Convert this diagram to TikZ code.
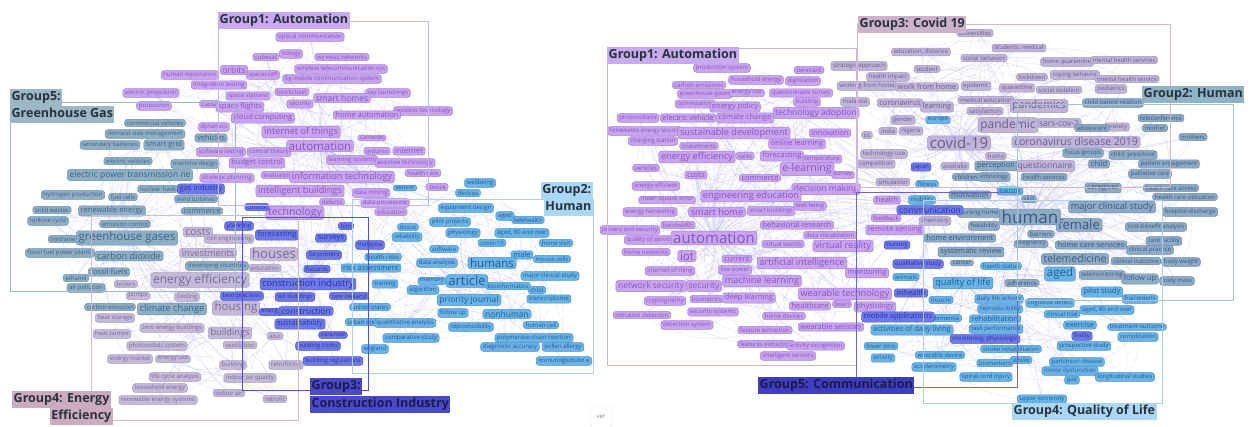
\documentclass[tikz,border=0pt]{standalone}
\usepackage{fontspec}
\setmainfont{Open Sans}
\usetikzlibrary{backgrounds}
\definecolor{cPur}{HTML}{C8A3EF}\definecolor{cPurD}{HTML}{A783D8}\definecolor{cPurT}{HTML}{8656BA}
\definecolor{cGG}{HTML}{8EAEC6}\definecolor{cGGD}{HTML}{6F90AB}\definecolor{cGGT}{HTML}{3B6385}
\definecolor{cEE}{HTML}{C4B9D9}\definecolor{cEED}{HTML}{A79DC2}\definecolor{cEET}{HTML}{776A98}
\definecolor{cCI}{HTML}{6E79E6}\definecolor{cCID}{HTML}{4E59C9}\definecolor{cCIT}{HTML}{2933A8}
\definecolor{cHU}{HTML}{6BB3E7}\definecolor{cHUD}{HTML}{4A94CD}\definecolor{cHUT}{HTML}{1D5D96}
\definecolor{cCOV}{HTML}{C0B5D8}\definecolor{cCOVD}{HTML}{A197C1}\definecolor{cCOVT}{HTML}{6A5C90}
\definecolor{cRH}{HTML}{8DAAC7}\definecolor{cRHD}{HTML}{6E8CAB}\definecolor{cRHT}{HTML}{39597E}
\definecolor{cEdge}{HTML}{A09AE0}
\definecolor{cG1}{HTML}{C9A9EF}\definecolor{cG5L}{HTML}{9CB8C6}\definecolor{cG2L}{HTML}{AAD7F5}
\definecolor{cG4L}{HTML}{CDABBE}\definecolor{cG3L}{HTML}{4A49CA}\definecolor{cG3R}{HTML}{CDB3C9}
\definecolor{cG2R}{HTML}{8FB3C2}\definecolor{cG5R}{HTML}{3E3EBE}\definecolor{cG4R}{HTML}{AAD7F5}
\definecolor{cLab}{HTML}{27323D}\definecolor{cLabD}{HTML}{1B1A4A}
\definecolor{cB1}{HTML}{C9B5EA}\definecolor{cB5}{HTML}{9FB9C9}\definecolor{cB2}{HTML}{A9D0EF}
\definecolor{cB4}{HTML}{D2BBCB}\definecolor{cB3}{HTML}{5253CA}\definecolor{cB3R}{HTML}{D6B9C9}
\definecolor{cB2R}{HTML}{A9C3D2}\definecolor{cB5R}{HTML}{6767CE}\definecolor{cB4R}{HTML}{A9D0EF}
\tikzset{
 pill/.style={rounded corners=2.6pt, inner xsep=2.2pt, inner ysep=1.3pt, line width=0.5pt},
 fs/.style={font=\fontsize{6}{7}\selectfont},
 fm/.style={font=\fontsize{7.5}{9}\selectfont},
 fml/.style={font=\fontsize{8.5}{10}\selectfont},
 fl/.style={font=\fontsize{9.2}{11}\selectfont},
 flx/.style={font=\fontsize{10.5}{12}\selectfont},
 fxl/.style={font=\fontsize{11.5}{13}\selectfont},
 ftw/.style={font=\fontsize{12}{14}\selectfont},
 fxxl/.style={font=\fontsize{13}{15}\selectfont},
 fxxxl/.style={font=\fontsize{15}{17}\selectfont},
 fhuge/.style={font=\fontsize{17}{19}\selectfont},
 Lpur/.style={fill=cPur,draw=cPurD,text=cPurT},
 Rpur/.style={fill=cPur,draw=cPurD,text=cPurT},
 Lgg/.style={fill=cGG,draw=cGGD,text=cGGT},
 Lee/.style={fill=cEE,draw=cEED,text=cEET},
 Lci/.style={fill=cCI,draw=cCID,text=cCIT},
 Rcom/.style={fill=cCI,draw=cCID,text=cCIT},
 Lhu/.style={fill=cHU,draw=cHUD,text=cHUT},
 Rqol/.style={fill=cHU,draw=cHUD,text=cHUT},
 Rcov/.style={fill=cCOV,draw=cCOVD,text=cCOVT},
 Rhu/.style={fill=cRH,draw=cRHD,text=cRHT},
 netline/.style={draw=cEdge, line width=0.35pt, opacity=0.3},
 grpbox/.style={line width=0.6pt},
 glab/.style={font=\fontsize{12.5}{14}\selectfont\bfseries, text=cLab, inner xsep=1.5pt, inner ysep=2.2pt, text height=9.5pt, text depth=3pt},
}
\newcommand\kwd[5]{%
  \expandafter\ifx\csname kwc#1\endcsname\relax\expandafter\gdef\csname kwc#1\endcsname{0}\fi
  \expandafter\xdef\csname kwc#1\endcsname{\the\numexpr\csname kwc#1\endcsname+1\relax}%
  \edef\kwtmp{\csname kwc#1\endcsname}%
  \node[pill,#1,#2] (#1\kwtmp) at (#3,#4) {#5};}
\newcommand\kwhub[5]{\node[pill,#1,#2] (#1hub) at (#3,#4) {#5};}
\begin{document}
\begin{tikzpicture}[x=1pt,y=-1pt]
\useasboundingbox (0,0) rectangle (1253,426);
\begin{pgfonlayer}{background}
\fill[white] (0,0) rectangle (1253,426);
\end{pgfonlayer}
% ================= LEFT PANEL =================
\kwd{Lpur}{fs}{310}{37}{optical communication}
\kwd{Lpur}{fs}{291}{54}{nology}
\kwd{Lpur}{fs}{266}{57}{cubesat}
\kwd{Lpur}{fs}{342}{57}{wireless networks}
\kwd{Lpur}{fs}{341}{69}{wireless telecommunication sys}
\kwd{Lpur}{fs}{190}{75}{human exploration}
\kwd{Lpur}{fs}{263}{75}{spacecraft}
\kwd{Lpur}{fs}{332}{79}{5g mobile communication system}
\kwd{Lpur}{fml}{234}{70}{orbits}
\kwd{Lpur}{fs}{219}{85}{integration testing}
\kwd{Lpur}{fs}{151}{93}{electric propulsion}
\kwd{Lpur}{fs}{154}{106}{propulsion}
\kwd{Lpur}{fs}{292}{92}{blockchain}
\kwd{Lpur}{fs}{248}{96}{space stations}
\kwd{Lpur}{fs}{388}{93}{ray launchings}
\kwd{Lpur}{fs}{300}{104}{security}
\kwd{Lpur}{fm}{210}{104}{nasa}
\kwd{Lpur}{fm}{240}{107}{space flights}
\kwd{Lpur}{fml}{342}{98}{smart homes}
\kwd{Lpur}{fs}{423}{111}{wireless technology}
\kwd{Lpur}{fm}{367}{115}{home automation}
\kwd{Lpur}{fm}{263}{118}{cloud computing}
\kwd{Lpur}{fs}{214}{127}{dynamics}
\kwd{Lpur}{fs}{372}{138}{cameras}
\kwd{Lpur}{fs}{377}{151}{arduino}
\kwd{Lpur}{fm}{409}{151}{internet}
\kwd{Lpur}{fs}{352}{160}{learning systems}
\kwd{Lpur}{fs}{405}{163}{assistive technology}
\kwd{Lpur}{fs}{221}{152}{software testing}
\kwd{Lpur}{fs}{269}{152}{control theory}
\kwd{Lpur}{fm}{257}{163}{budget control}
\kwd{Lpur}{fs}{227}{178}{strategic planning}
\kwd{Lpur}{fs}{278}{175}{evaluation}
\kwd{Lpur}{fs}{423}{173}{health care}
\kwd{Lpur}{fs}{437}{187}{device}
\kwd{Lpur}{fs}{371}{193}{data mining}
\kwd{Lpur}{fs}{332}{202}{defects}
\kwd{Lpur}{fs}{385}{203}{data processing}
\kwd{Lpur}{fs}{391}{212}{education}
\kwd{Lpur}{fl}{301}{132}{internet of things}
\kwd{Lpur}{fl}{342}{177}{information technology}
\kwd{Lpur}{fl}{300}{191}{intelligent buildings}
\kwd{Lpur}{flx}{295}{213}{technology}
\kwhub{Lpur}{fxl}{320}{146}{automation}
\kwd{Lgg}{fs}{155}{123}{commercial vehicles}
\kwd{Lgg}{fs}{145}{134}{demand side management}
\kwd{Lgg}{fm}{211}{138}{vehicles}
\kwd{Lgg}{fs}{110}{145}{secondary batteries}
\kwd{Lgg}{fm}{164}{145}{smart grid}
\kwd{Lgg}{fs}{128}{161}{electric vehicles}
\kwd{Lgg}{fs}{195}{164}{machine design}
\kwd{Lgg}{fml}{130}{175}{electric power transmission ne}
\kwd{Lgg}{fs}{158}{189}{nuclear fuels}
\kwd{Lgg}{fs}{73}{195}{hydrogen production}
\kwd{Lgg}{fs}{123}{197}{fuel cells}
\kwd{Lgg}{fs}{196}{199}{wind turbines}
\kwd{Lgg}{fs}{52}{210}{solid wastes}
\kwd{Lgg}{fm}{112}{211}{renewable energy}
\kwd{Lgg}{fm}{202}{211}{commerce}
\kwd{Lgg}{fs}{48}{221}{rankine cycle}
\kwd{Lgg}{fs}{125}{224}{emission control}
\kwd{Lgg}{fs}{63}{239}{methane}
\kwd{Lgg}{fs}{60}{253}{fossil fuel power plants}
\kwd{Lgg}{fs}{217}{266}{developing countries}
\kwd{Lgg}{fm}{109}{272}{fossil fuels}
\kwd{Lgg}{fs}{76}{278}{ethanol}
\kwd{Lgg}{fs}{86}{288}{air pollution}
\kwd{Lgg}{fs}{110}{307}{carbon emission}
\kwd{Lgg}{fl}{129}{256}{carbon dioxide}
\kwd{Lgg}{fl}{172}{309}{climate change}
\kwhub{Lgg}{fxl}{127}{238}{greenhouse gases}
\kwd{Lee}{fs}{229}{239}{civil engineering}
\kwd{Lee}{fs}{265}{268}{education}
\kwd{Lee}{fs}{126}{284}{boilers}
\kwd{Lee}{fs}{138}{296}{pumps}
\kwd{Lee}{fs}{187}{297}{cooling}
\kwd{Lee}{fs}{115}{318}{heat storage}
\kwd{Lee}{fs}{172}{328}{zero energy buildings}
\kwd{Lee}{fs}{112}{334}{heat pumps}
\kwd{Lee}{fs}{275}{336}{also}
\kwd{Lee}{fs}{157}{346}{photovoltaic system}
\kwd{Lee}{fs}{240}{345}{ventilation}
\kwd{Lee}{fs}{130}{359}{energy market}
\kwd{Lee}{fs}{173}{359}{energy use}
\kwd{Lee}{fs}{233}{365}{building}
\kwd{Lee}{fs}{286}{365}{retrofitting}
\kwd{Lee}{fs}{175}{377}{life cycle analysis}
\kwd{Lee}{fs}{250}{378}{indoor air quality}
\kwd{Lee}{fs}{160}{388}{household energy}
\kwd{Lee}{fs}{229}{393}{indoor air}
\kwd{Lee}{fs}{158}{400}{renewable energy systems}
\kwd{Lee}{fs}{275}{399}{retrofit}
\kwd{Lee}{flx}{198}{232}{costs}
\kwd{Lee}{fl}{208}{253}{investments}
\kwd{Lee}{fl}{230}{333}{buildings}
\kwd{Lee}{fxl}{236}{308}{housing}
\kwd{Lee}{fxxl}{274}{254}{houses}
\kwhub{Lee}{ftw}{200}{280}{energy efficiency}
\kwd{Lci}{fm}{201}{189}{gas industry}
\kwd{Lci}{fs}{257}{207}{control}
\kwd{Lci}{fs}{239}{226}{planning}
\kwd{Lci}{fm}{277}{235}{forecasting}
\kwd{Lci}{fs}{346}{226}{bim}
\kwd{Lci}{fm}{331}{238}{surveys}
\kwd{Lci}{fs}{324}{255}{3d printers}
\kwd{Lci}{fs}{370}{245}{malaysia}
\kwd{Lci}{fs}{317}{269}{hazards}
\kwd{Lci}{fs}{242}{296}{best practices}
\kwd{Lci}{fs}{295}{297}{tall buildings}
\kwd{Lci}{fs}{349}{296}{new zealand}
\kwd{Lci}{fs}{271}{312}{energy}
\kwd{Lci}{fm}{300}{324}{sustainability}
\kwd{Lci}{fs}{333}{335}{concrete}
\kwd{Lci}{fs}{318}{346}{building codes}
\kwd{Lci}{fs}{333}{361}{building regulations}
\kwd{Lci}{fml}{306}{311}{construction}
\kwhub{Lci}{fl}{308}{284}{construction industry}
\kwd{Lhu}{fs}{405}{188}{sensor}
\kwd{Lhu}{fs}{480}{183}{wellbeing}
\kwd{Lhu}{fs}{468}{193}{devices}
\kwd{Lhu}{fs}{466}{208}{equipment design}
\kwd{Lhu}{fs}{505}{216}{aged}
\kwd{Lhu}{fs}{450}{222}{pilot projects}
\kwd{Lhu}{fs}{528}{220}{telehealth}
\kwd{Lhu}{fs}{408}{227}{tissue}
\kwd{Lhu}{fs}{463}{233}{physiology}
\kwd{Lhu}{fs}{522}{233}{aged, 80 and over}
\kwd{Lhu}{fs}{407}{237}{reliability}
\kwd{Lhu}{fs}{492}{243}{covid-19}
\kwd{Lhu}{fs}{556}{243}{home visit}
\kwd{Lhu}{fs}{444}{249}{software}
\kwd{Lhu}{fs}{383}{257}{health risks}
\kwd{Lhu}{fs}{552}{259}{mouse cells}
\kwd{Lhu}{fs}{437}{263}{data analysis}
\kwd{Lhu}{fm}{522}{255}{male}
\kwd{Lhu}{fm}{371}{268}{risk assessment}
\kwd{Lhu}{fs}{550}{276}{major clinical study}
\kwd{Lhu}{fs}{432}{281}{memory}
\kwd{Lhu}{fs}{385}{284}{training}
\kwd{Lhu}{fs}{508}{286}{bioinformatics}
\kwd{Lhu}{fs}{423}{290}{algorithm}
\kwd{Lhu}{fs}{537}{290}{child}
\kwd{Lhu}{fs}{549}{299}{transcriptome}
\kwd{Lhu}{fs}{370}{307}{united states}
\kwd{Lhu}{fs}{453}{313}{follow up}
\kwd{Lhu}{fs}{363}{322}{urban area}
\kwd{Lhu}{fs}{405}{323}{quantitative analysis}
\kwd{Lhu}{fs}{541}{325}{human cell}
\kwd{Lhu}{fs}{471}{327}{reproducibility}
\kwd{Lhu}{fs}{411}{338}{comparative study}
\kwd{Lhu}{fs}{534}{338}{polymerase chain reaction}
\kwd{Lhu}{fs}{510}{347}{diagnostic accuracy}
\kwd{Lhu}{fs}{563}{347}{pollen allergy}
\kwd{Lhu}{fs}{375}{349}{england}
\kwd{Lhu}{fs}{564}{361}{immunoglobulin e}
\kwd{Lhu}{fml}{469}{300}{priority journal}
\kwd{Lhu}{fml}{507}{314}{nonhuman}
\kwd{Lhu}{fxl}{492}{263}{humans}
\kwhub{Lhu}{fxxl}{467}{281}{article}
% ================= RIGHT PANEL =================
\kwd{Rpur}{fs}{722}{68}{production system}
\kwd{Rpur}{fs}{809}{70}{denmark}
\kwd{Rpur}{fs}{756}{80}{household energy}
\kwd{Rpur}{fs}{803}{81}{digitization}
\kwd{Rpur}{fs}{699}{85}{carbon emissions}
\kwd{Rpur}{fs}{705}{94}{greenhouse gases}
\kwd{Rpur}{fs}{747}{93}{energy use}
\kwd{Rpur}{fs}{801}{93}{questionnaire survey}
\kwd{Rpur}{fs}{695}{104}{optimization}
\kwd{Rpur}{fs}{807}{102}{building}
\kwd{Rpur}{fm}{735}{107}{energy policy}
\kwd{Rpur}{fs}{638}{118}{photovoltaics}
\kwd{Rpur}{fm}{688}{118}{electric vehicle}
\kwd{Rpur}{fm}{745}{118}{climate change}
\kwd{Rpur}{fml}{816}{113}{technology adoption}
\kwd{Rpur}{fs}{645}{131}{renewable energy source}
\kwd{Rpur}{fm}{830}{133}{innovation}
\kwd{Rpur}{fs}{653}{141}{charging station}
\kwd{Rpur}{fs}{699}{146}{investments}
\kwd{Rpur}{fm}{797}{144}{online learning}
\kwd{Rpur}{fs}{745}{156}{sales}
\kwd{Rpur}{fm}{782}{156}{forecasting}
\kwd{Rpur}{fs}{822}{159}{temperature}
\kwd{Rpur}{fs}{646}{168}{vehicles}
\kwd{Rpur}{fm}{696}{175}{costs}
\kwd{Rpur}{fm}{760}{178}{commerce}
\kwd{Rpur}{fs}{843}{175}{survey}
\kwd{Rpur}{fs}{656}{186}{energy efficient}
\kwd{Rpur}{fs}{667}{200}{mean square error}
\kwd{Rpur}{fs}{810}{206}{well being}
\kwd{Rpur}{fs}{650}{212}{energy harvesting}
\kwd{Rpur}{fs}{771}{211}{smart buildings}
\kwd{Rpur}{fs}{678}{225}{bandwidth}
\kwd{Rpur}{fm}{797}{225}{behavioral research}
\kwd{Rpur}{fs}{630}{230}{privacy and security}
\kwd{Rpur}{fs}{830}{235}{data visualization}
\kwd{Rpur}{fs}{650}{240}{quality of service}
\kwd{Rpur}{fs}{783}{244}{virtual worlds}
\kwd{Rpur}{fs}{646}{252}{home networks}
\kwd{Rpur}{fs}{735}{270}{low power}
\kwd{Rpur}{fs}{670}{271}{internet of thing}
\kwd{Rpur}{fm}{737}{259}{current}
\kwd{Rpur}{fm}{867}{273}{monitoring}
\kwd{Rpur}{fs}{707}{299}{biometrics}
\kwd{Rpur}{fs}{665}{301}{cryptography}
\kwd{Rpur}{fs}{842}{304}{brain}
\kwd{Rpur}{fs}{642}{315}{intrusion detection}
\kwd{Rpur}{fs}{713}{312}{security systems}
\kwd{Rpur}{fs}{784}{316}{home devices}
\kwd{Rpur}{fs}{687}{325}{detection system}
\kwd{Rpur}{fs}{765}{330}{feature extraction}
\kwd{Rpur}{fs}{766}{344}{features extraction}
\kwd{Rpur}{fs}{816}{346}{activity recognition}
\kwd{Rpur}{fs}{788}{356}{intelligent sensors}
\kwd{Rpur}{fm}{749}{298}{deep learning}
\kwd{Rpur}{fm}{810}{306}{healthcare}
\kwd{Rpur}{fm}{875}{307}{physiology}
\kwd{Rpur}{fm}{831}{327}{wearable sensors}
\kwd{Rpur}{fm}{887}{200}{health}
\kwd{Rpur}{fs}{886}{218}{feedback}
\kwd{Rpur}{fm}{895}{230}{remote sensing}
\kwd{Rpur}{fml}{651}{286}{network security}
\kwd{Rpur}{fml}{704}{286}{security}
\kwd{Rpur}{fml}{826}{189}{decision making}
\kwd{Rpur}{fl}{734}{133}{sustainable development}
\kwd{Rpur}{fl}{697}{157}{energy efficiency}
\kwd{Rpur}{flx}{807}{169}{e-learning}
\kwd{Rpur}{fl}{751}{196}{engineering education}
\kwd{Rpur}{fl}{717}{212}{smart home}
\kwd{Rpur}{fl}{843}{246}{virtual reality}
\kwd{Rpur}{fxl}{687}{256}{iot}
\kwd{Rpur}{fl}{802}{263}{artificial intelligence}
\kwd{Rpur}{fl}{762}{281}{machine learning}
\kwd{Rpur}{fl}{845}{294}{wearable technology}
\kwhub{Rpur}{fxxxl}{714}{238}{automation}
\kwd{Rcov}{fs}{859}{66}{strategic approach}
\kwd{Rcov}{fs}{921}{52}{education, distance}
\kwd{Rcov}{fs}{975}{33}{universities}
\kwd{Rcov}{fs}{1019}{48}{students, medical}
\kwd{Rcov}{fs}{984}{58}{social behavior}
\kwd{Rcov}{fs}{927}{69}{student}
\kwd{Rcov}{fs}{1067}{62}{home quarantine}
\kwd{Rcov}{fs}{1124}{60}{mental health services}
\kwd{Rcov}{fs}{888}{77}{health impact}
\kwd{Rcov}{fs}{867}{86}{working from home}
\kwd{Rcov}{fm}{927}{87}{work from home}
\kwd{Rcov}{fs}{855}{102}{malaysia}
\kwd{Rcov}{fs}{1032}{77}{lockdown}
\kwd{Rcov}{fs}{1075}{75}{coping behavior}
\kwd{Rcov}{fs}{1127}{79}{mental health service}
\kwd{Rcov}{fs}{976}{86}{epidemic}
\kwd{Rcov}{fs}{1017}{88}{quarantine}
\kwd{Rcov}{fs}{1059}{90}{social isolation}
\kwd{Rcov}{fs}{1111}{89}{pediatrics}
\kwd{Rcov}{fs}{986}{100}{medical education}
\kwd{Rcov}{fs}{985}{111}{satisfaction}
\kwd{Rcov}{fm}{900}{103}{coronavirus}
\kwd{Rcov}{fm}{937}{107}{learning}
\kwd{Rcov}{fs}{903}{120}{gender}
\kwd{Rcov}{fs}{888}{131}{india}
\kwd{Rcov}{fs}{911}{131}{nigeria}
\kwd{Rcov}{fs}{867}{135}{ict}
\kwd{Rcov}{fs}{1117}{127}{anxiety}
\kwd{Rcov}{fs}{884}{154}{technology use}
\kwd{Rcov}{fs}{876}{164}{competition}
\kwd{Rcov}{fs}{955}{166}{australia}
\kwd{Rcov}{fs}{996}{156}{home}
\kwd{Rcov}{fs}{893}{182}{simulation}
\kwd{Rcov}{fs}{935}{221}{chemistry}
\kwd{Rcov}{flx}{1039}{106}{pandemics}
\kwd{Rcov}{fml}{1059}{123}{sars-cov-2}
\kwd{Rcov}{ftw}{1008}{125}{pandemic}
\kwd{Rcov}{flx}{1076}{142}{coronavirus disease 2019}
\kwd{Rcov}{fml}{1045}{166}{questionnaire}
\kwhub{Rcov}{fxxxl}{959}{143}{covid-19}
\kwd{Rhu}{fs}{1113}{103}{child parent relation}
\kwd{Rhu}{fs}{1092}{128}{adolescent}
\kwd{Rhu}{fs}{1161}{118}{teleconference}
\kwd{Rhu}{fs}{1155}{128}{mother}
\kwd{Rhu}{fs}{1193}{137}{mothers}
\kwd{Rhu}{fs}{1083}{153}{focus groups}
\kwd{Rhu}{fs}{1133}{155}{child, preschool}
\kwd{Rhu}{fs}{1169}{164}{patient engagement}
\kwd{Rhu}{fs}{966}{177}{children}
\kwd{Rhu}{fs}{994}{177}{ethnology}
\kwd{Rhu}{fs}{1044}{177}{health services}
\kwd{Rhu}{fs}{1150}{174}{palliative care}
\kwd{Rhu}{fs}{1171}{188}{health care access}
\kwd{Rhu}{fs}{1185}{197}{health care utilization}
\kwd{Rhu}{fs}{1029}{199}{skill}
\kwd{Rhu}{fs}{1190}{212}{hospital discharge}
\kwd{Rhu}{fs}{979}{213}{nursing home}
\kwd{Rhu}{fs}{1156}{227}{cost-benefit analysis}
\kwd{Rhu}{fs}{984}{226}{feasibility}
\kwd{Rhu}{fs}{1041}{234}{barriers}
\kwd{Rhu}{fs}{1164}{241}{care facility}
\kwd{Rhu}{fs}{1031}{244}{pregnancy}
\kwd{Rhu}{fs}{1150}{250}{clinical practice}
\kwd{Rhu}{fs}{1136}{261}{clinical outcome}
\kwd{Rhu}{fs}{1181}{262}{body weight}
\kwd{Rhu}{fs}{962}{263}{cancer}
\kwd{Rhu}{fs}{1102}{275}{telemonitoring}
\kwd{Rhu}{fs}{1177}{281}{body mass}
\kwd{Rhu}{fs}{1022}{283}{adherence}
\kwd{Rhu}{fm}{996}{166}{perception}
\kwd{Rhu}{fm}{1099}{164}{child}
\kwd{Rhu}{fm}{1103}{188}{caregiver}
\kwd{Rhu}{fm}{970}{195}{motivation}
\kwd{Rhu}{fm}{960}{238}{home environment}
\kwd{Rhu}{fm}{1091}{245}{home care services}
\kwd{Rhu}{fm}{971}{252}{systematic review}
\kwd{Rhu}{fm}{1140}{279}{follow up}
\kwd{Rhu}{fl}{1112}{207}{major clinical study}
\kwd{Rhu}{fxxl}{1079}{225}{female}
\kwd{Rhu}{flx}{1075}{259}{telemedicine}
\kwhub{Rhu}{fhuge}{1030}{217}{human}
\kwd{Rqol}{fs}{938}{120}{europe}
\kwd{Rqol}{fs}{927}{184}{fitness}
\kwd{Rqol}{fs}{1010}{191}{training}
\kwd{Rqol}{fs}{922}{200}{mobility}
\kwd{Rqol}{fs}{1001}{266}{health status}
\kwd{Rqol}{fs}{906}{277}{animals}
\kwd{Rqol}{fs}{1140}{299}{frail elderly}
\kwd{Rqol}{fs}{941}{300}{muscle}
\kwd{Rqol}{fs}{999}{299}{daily life activity}
\kwd{Rqol}{fs}{1050}{303}{cognitive defect}
\kwd{Rqol}{fs}{1000}{309}{reproducibility}
\kwd{Rqol}{fs}{1107}{310}{aged, 80 and over}
\kwd{Rqol}{fs}{1062}{314}{clinical trial}
\kwd{Rqol}{fs}{946}{318}{dementia}
\kwd{Rqol}{fs}{1137}{327}{treatment outcome}
\kwd{Rqol}{fs}{996}{329}{task performance}
\kwd{Rqol}{fs}{1138}{337}{complication}
\kwd{Rqol}{fs}{881}{346}{lower limb}
\kwd{Rqol}{fs}{1084}{346}{prospective study}
\kwd{Rqol}{fs}{1011}{349}{stroke rehabilitation}
\kwd{Rqol}{fs}{940}{355}{wearable device}
\kwd{Rqol}{fs}{883}{358}{activity}
\kwd{Rqol}{fs}{995}{363}{biomarkers}
\kwd{Rqol}{fs}{1021}{360}{stroke}
\kwd{Rqol}{fs}{1077}{362}{parkinson disease}
\kwd{Rqol}{fs}{934}{367}{accelerometry}
\kwd{Rqol}{fs}{1070}{371}{motor dysfunction}
\kwd{Rqol}{fs}{1125}{377}{longitudinal studies}
\kwd{Rqol}{fs}{986}{377}{spinal cord injury}
\kwd{Rqol}{fs}{1072}{380}{gait}
\kwd{Rqol}{fs}{1042}{399}{upper extremity}
\kwd{Rqol}{fm}{1102}{292}{pilot study}
\kwd{Rqol}{fm}{995}{319}{rehabilitation}
\kwd{Rqol}{fm}{1080}{325}{exercise}
\kwd{Rqol}{fm}{912}{330}{activities of daily living}
\kwd{Rqol}{fxl}{1060}{274}{aged}
\kwhub{Rqol}{fl}{963}{283}{quality of life}
\kwd{Rcom}{fs}{921}{167}{japan}
\kwd{Rcom}{fs}{897}{245}{nursing}
\kwd{Rcom}{fs}{918}{264}{qualitative study}
\kwd{Rcom}{fs}{1082}{336}{frailty}
\kwd{Rcom}{fs}{985}{339}{monitoring, physiologic}
\kwd{Rcom}{fm}{911}{293}{mhealth}
\kwd{Rcom}{fm}{898}{317}{mobile applications}
\kwhub{Rcom}{fml}{930}{210}{communication}
% ================= network haze =================
\begin{pgfonlayer}{background}
\foreach \cl/\ot in {Lpur/Lci,Lgg/Lee,Lee/Lgg,Lci/Lee,Lhu/Lpur,Rpur/Rcom,Rcov/Rhu,Rhu/Rcov,Rcom/Rqol,Rqol/Rhu}{%
  \edef\NN{\csname kwc\cl\endcsname}%
  \foreach \i in {1,...,\NN}{%
    \pgfmathtruncatemacro\jj{mod(\i*7,\NN)+1}%
    \pgfmathtruncatemacro\kk{mod(\i*11+3,\NN)+1}%
    \draw[netline] (\cl hub) to[bend left=14] (\cl\i);
    \ifnum\jj=\i\relax\else\draw[netline] (\cl\i) to[bend right=18] (\cl\jj);\fi
    \ifnum\kk=\i\relax\else\draw[netline] (\cl\i) to[bend left=22] (\cl\kk);\fi
    \ifodd\i\relax\draw[netline] (\ot hub) to[bend right=10] (\cl\i);\fi
  }%
}
\foreach \a/\b in {Lpurhub/Leehub,Lpurhub/Lcihub,Lpurhub/Lhuhub,Lgghub/Leehub,Lgghub/Lcihub,Leehub/Lcihub,Leehub/Lhuhub,Lcihub/Lhuhub,Lgghub/Lpurhub,Rpurhub/Rcovhub,Rpurhub/Rcomhub,Rcovhub/Rhuhub,Rhuhub/Rqolhub,Rcomhub/Rqolhub,Rcovhub/Rqolhub,Rpurhub/Rhuhub}{%
  \draw[netline] (\a) to[bend left=10] (\b);
}
\end{pgfonlayer}
% ================= group boxes =================
\draw[grpbox,draw=cB1] (218,21) rectangle (428,205);
\draw[grpbox,draw=cB5] (10,102) rectangle (235,291);
\draw[grpbox,draw=cB2] (352,199) rectangle (593,373);
\draw[grpbox,draw=cB4] (91,215) rectangle (298,420);
\draw[grpbox,draw=cB3] (242,217) rectangle (368,390);
\draw[grpbox,draw=cB1] (607,48) rectangle (856,365);
\draw[grpbox,draw=cB3R] (857,24) rectangle (1170,187);
\draw[grpbox,draw=cB5R] (856,192) rectangle (1017,387);
\draw[grpbox,draw=cB2R] (1017,104) rectangle (1233,300);
\draw[grpbox,draw=cB4R] (923,200) rectangle (1162,403);
% ================= group labels =================
\node[glab,fill=cG1,anchor=north west] (gL1) at (218,12) {Group1: Automation};
\node[glab,fill=cG5L,anchor=north west] (gL5a) at (10,89) {Group5:};
\node[glab,fill=cG5L,anchor=north west] (gL5b) at (10,106) {Greenhouse Gas};
\node[glab,fill=cG2L,anchor=north east] (gL2a) at (593,182) {Group2:};
\node[glab,fill=cG2L,anchor=north east] (gL2b) at (593,199) {Human};
\node[glab,fill=cG4L,anchor=north west] (gL4a) at (12,391) {Group4: Energy};
\node[glab,fill=cG4L,anchor=north east] (gL4b) at (113,408) {Efficiency};
\node[glab,fill=cG3L,text=cLabD,anchor=north west] (gL3a) at (310,378) {Group3:};
\node[glab,fill=cG3L,text=cLabD,anchor=north west] (gL3b) at (310,396) {Construction Industry};
\node[glab,fill=cG1,anchor=north west] (gR1) at (607,47) {Group1: Automation};
\node[glab,fill=cG3R,anchor=north west] (gR3) at (858,16) {Group3: Covid 19};
\node[glab,fill=cG2R,anchor=north west] (gR2) at (1142,86) {Group2: Human};
\node[glab,fill=cG5R,text=cLabD,anchor=north west] (gR5) at (758,377) {Group5: Communication};
\node[glab,fill=cG4R,anchor=north west] (gR4) at (1012,403) {Group4: Quality of Life};
\node[draw=gray!20, rounded corners=1.5pt, minimum width=22pt, minimum height=20pt, font=\fontsize{6}{7}\selectfont, text=gray, text depth=0pt] (ver) at (601,417) {ver};
\end{tikzpicture}
\end{document}
